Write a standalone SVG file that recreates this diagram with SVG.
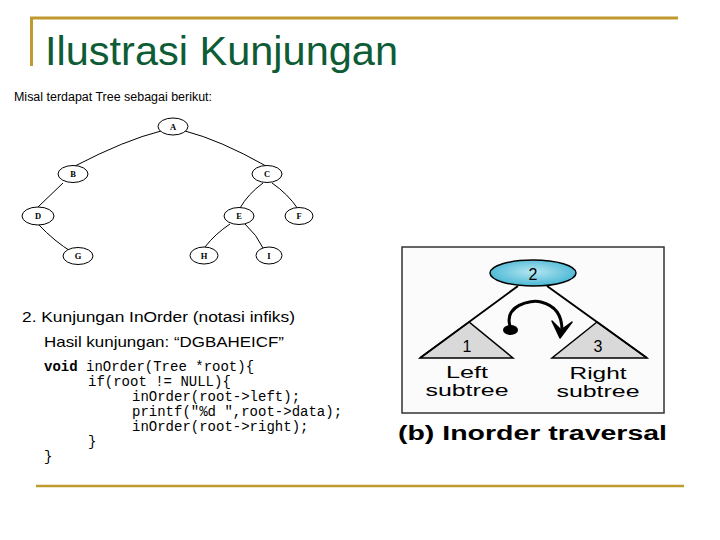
<svg xmlns="http://www.w3.org/2000/svg" width="720" height="540" viewBox="0 0 720 540">
<defs>
<radialGradient id="blue" cx="50%" cy="45%" r="60%">
<stop offset="0" stop-color="#b5e6f2"/>
<stop offset="1" stop-color="#3fb3d1"/>
</radialGradient>
<style>
.gold{stroke:#bf9a2e;stroke-width:3;fill:none}
.title{font-family:"Liberation Sans",Arial,sans-serif;font-size:40px;fill:#0e5c36}
.node ellipse{fill:#fff;stroke:#000;stroke-width:1}
.node text{font-family:"Liberation Serif",serif;font-size:8.5px;font-weight:bold;text-anchor:middle}
.edge{fill:none;stroke:#000;stroke-width:1}
.sans{font-family:"Liberation Sans",Arial,sans-serif;fill:#000}
.code{font-family:"Liberation Mono","Courier New",monospace;font-size:14px;fill:#000}
.tri{fill:#d9d9d9;stroke:#000;stroke-width:1.5}
.bl{fill:none;stroke:#000;stroke-width:2}
.lbl{font-family:"Liberation Sans",Arial,sans-serif;font-size:16px;text-anchor:middle;fill:#000}
</style>
</defs>
<rect width="720" height="540" fill="#fff"/>
<path class="gold" d="M30 18 H678 M31.5 18 V66"/>
<line x1="36" y1="486" x2="684" y2="486" stroke="#bf9a2e" stroke-width="2.5"/>
<text class="title" x="45" y="65" textLength="353" lengthAdjust="spacingAndGlyphs">Ilustrasi Kunjungan</text>
<text class="sans" x="14" y="101" font-size="12.5" textLength="198" lengthAdjust="spacingAndGlyphs">Misal terdapat Tree sebagai berikut:</text>
<g id="connectors">
<path class="edge" d="M161 131 Q125 140 75 166"/>
<path class="edge" d="M185 131 Q220 140 266 166"/>
<path class="edge" d="M63 183 L38 207"/>
<path class="edge" d="M38 224 Q55 242 72 252"/>
<path class="edge" d="M263 183 Q248 194 240 208"/>
<path class="edge" d="M272 183 Q288 194 298 209"/>
<path class="edge" d="M230 224 Q215 234 205 247"/>
<path class="edge" d="M245 224 Q257 235 263 248"/>
</g>
<g id="nA" class="node"><ellipse cx="173" cy="126.5" rx="15" ry="8.5"/><text x="173" y="129.5">A</text></g>
<g id="nB" class="node"><ellipse cx="73" cy="174" rx="15" ry="8.5"/><text x="73" y="177">B</text></g>
<g id="nC" class="node"><ellipse cx="267" cy="174" rx="15" ry="8.5"/><text x="267" y="177">C</text></g>
<g id="nD" class="node"><ellipse cx="38" cy="216" rx="16" ry="9"/><text x="38" y="219">D</text></g>
<g id="nE" class="node"><ellipse cx="239" cy="216" rx="15" ry="8.5"/><text x="239" y="219">E</text></g>
<g id="nF" class="node"><ellipse cx="299" cy="216" rx="14" ry="8.5"/><text x="299" y="219">F</text></g>
<g id="nG" class="node"><ellipse cx="78" cy="256" rx="15" ry="8.5"/><text x="78" y="259">G</text></g>
<g id="nH" class="node"><ellipse cx="204" cy="255.5" rx="14" ry="8.5"/><text x="204" y="258.5">H</text></g>
<g id="nI" class="node"><ellipse cx="269" cy="255.5" rx="13" ry="8.5"/><text x="269" y="258.5">I</text></g>
<text class="sans" x="22" y="322" font-size="15.5" textLength="273" lengthAdjust="spacingAndGlyphs">2.  Kunjungan InOrder (notasi infiks)</text>
<text class="sans" x="44" y="347" font-size="15" textLength="240" lengthAdjust="spacingAndGlyphs">Hasil kunjungan: “DGBAHEICF”</text>
<g class="code">
<text x="44" y="371"><tspan font-weight="bold">void</tspan> inOrder(Tree *root){</text>
<text x="88" y="386">if(root != NULL){</text>
<text x="132" y="401">inOrder(root-&gt;left);</text>
<text x="132" y="416">printf("%d ",root-&gt;data);</text>
<text x="132" y="431">inOrder(root-&gt;right);</text>
<text x="88" y="446">}</text>
<text x="44" y="461">}</text>
</g>
<g id="panel">
<rect x="402" y="247" width="262" height="166" fill="#fbfbfb" stroke="#333" stroke-width="1.5"/>
<polygon class="tri" points="469,322 420,358 513,358"/>
<polygon class="tri" points="597,322 552,358 647,358"/>
<path class="bl" d="M518 286 L420 358 M547 286 L647 358"/>
<ellipse cx="533" cy="273" rx="43" ry="13" fill="url(#blue)" stroke="#000" stroke-width="1.5"/>
<text class="lbl" x="533" y="280" font-size="18">2</text>
<text class="lbl" x="467" y="352" font-size="18">1</text>
<text class="lbl" x="598" y="352" font-size="18">3</text>
<text class="lbl" x="467" y="378" textLength="42" lengthAdjust="spacingAndGlyphs">Left</text>
<text class="lbl" x="467" y="396" textLength="83" lengthAdjust="spacingAndGlyphs">subtree</text>
<text class="lbl" x="598" y="379" textLength="57" lengthAdjust="spacingAndGlyphs">Right</text>
<text class="lbl" x="598" y="397" textLength="83" lengthAdjust="spacingAndGlyphs">subtree</text>
<path d="M510 326 C504 306 530 299 541 302 C553 305 562 313 562 330" fill="none" stroke="#000" stroke-width="3"/>
<ellipse cx="510.5" cy="330" rx="7.5" ry="5" fill="#000"/>
<path d="M552 321 L560 338 L572 322 L561 330 Z" fill="#000" stroke="#000" stroke-width="1.5" stroke-linejoin="round"/>
<text class="sans" x="398" y="440" font-size="20" font-weight="bold" textLength="269" lengthAdjust="spacingAndGlyphs">(b) Inorder traversal</text>
</g>
</svg>
